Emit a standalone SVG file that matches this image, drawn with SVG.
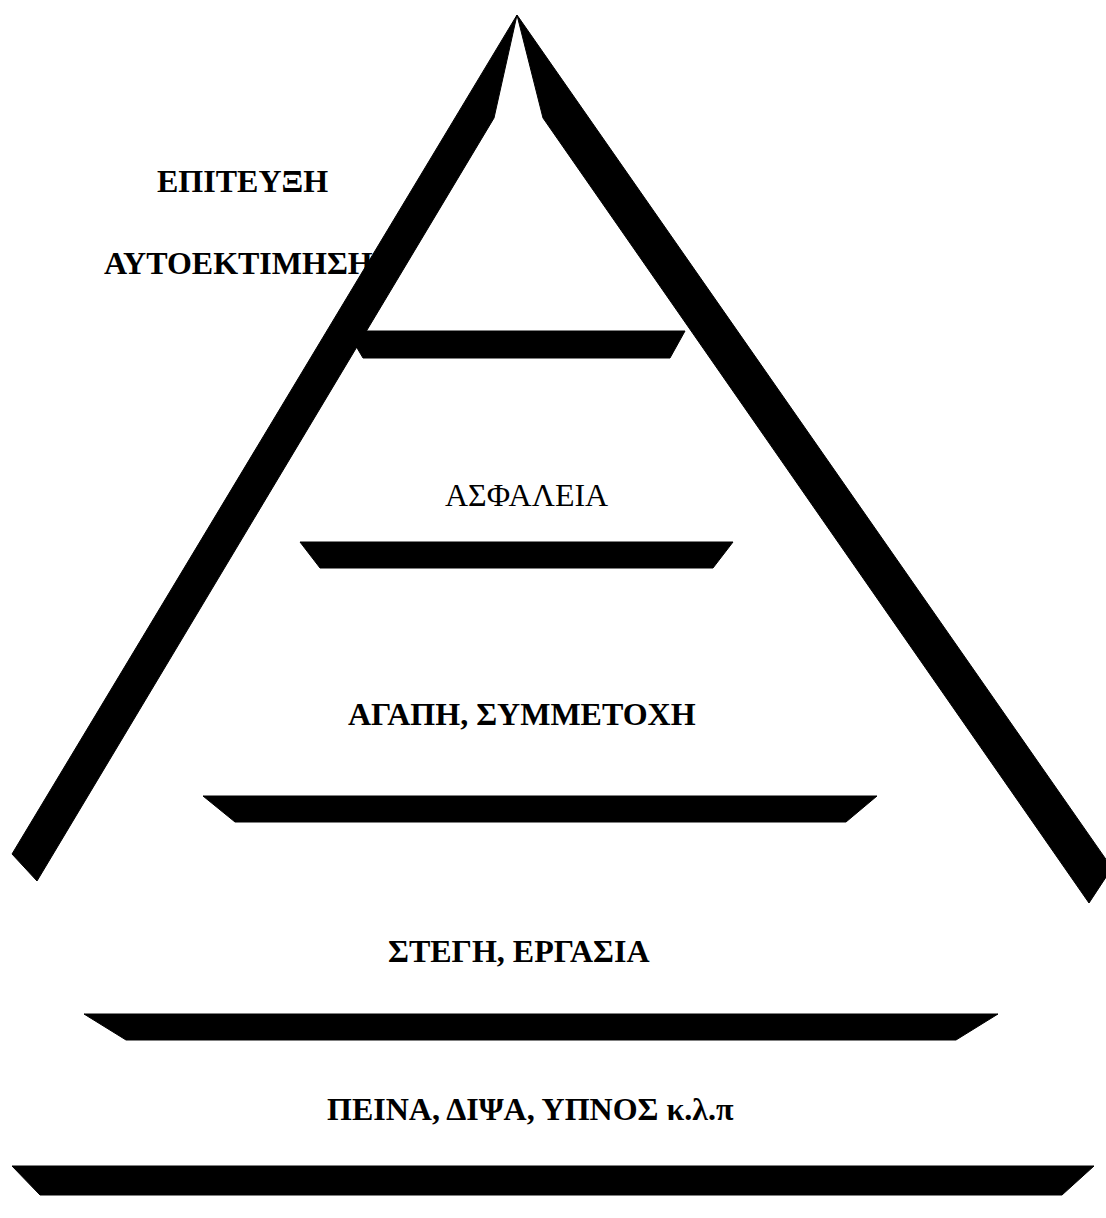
<svg xmlns="http://www.w3.org/2000/svg" width="1106" height="1218" viewBox="0 0 1106 1218">
<style>
.t{font-family:"Liberation Serif","Times New Roman",serif;font-size:32px;font-weight:bold;fill:#000}
.r{font-weight:normal}
.s{fill:#000;stroke:#000;stroke-width:1;stroke-linejoin:round}
</style>
<rect width="1106" height="1218" fill="#fff"/>
<g id="labels">
<g id="level5"><text class="t" x="157" y="192">ΕΠΙΤΕΥΞΗ</text><text class="t" x="104" y="274">ΑΥΤΟΕΚΤΙΜΗΣΗ</text></g>
<g id="level4"><text class="t r" x="445" y="506">ΑΣΦΑΛΕΙΑ</text></g>
<g id="level3"><text class="t" x="348" y="725">ΑΓΑΠΗ, ΣΥΜΜΕΤΟΧΗ</text></g>
<g id="level2"><text class="t" x="388" y="962">ΣΤΕΓΗ, ΕΡΓΑΣΙΑ</text></g>
<g id="level1"><text class="t" x="327" y="1120">ΠΕΙΝΑ, ΔΙΨΑ, ΥΠΝΟΣ κ.λ.π</text></g>
</g>
<g id="shapes">
<polygon id="leftArm" class="s" points="517,15 12,854 37,881 494,118"/>
<polygon id="rightArm" class="s" points="517,15 543,118 1089,903 1112,868"/>
<polygon id="band1" class="s" points="347,331 685,331 670,358 363,358"/>
<polygon id="band2" class="s" points="300,542 733,542 713,568 320,568"/>
<polygon id="band3" class="s" points="203,796 877,796 846,822 235,822"/>
<polygon id="band4" class="s" points="84,1014 998,1014 956,1040 126,1040"/>
<polygon id="band5" class="s" points="12,1166 1094,1166 1062,1195 40,1195"/>
</g>
</svg>
